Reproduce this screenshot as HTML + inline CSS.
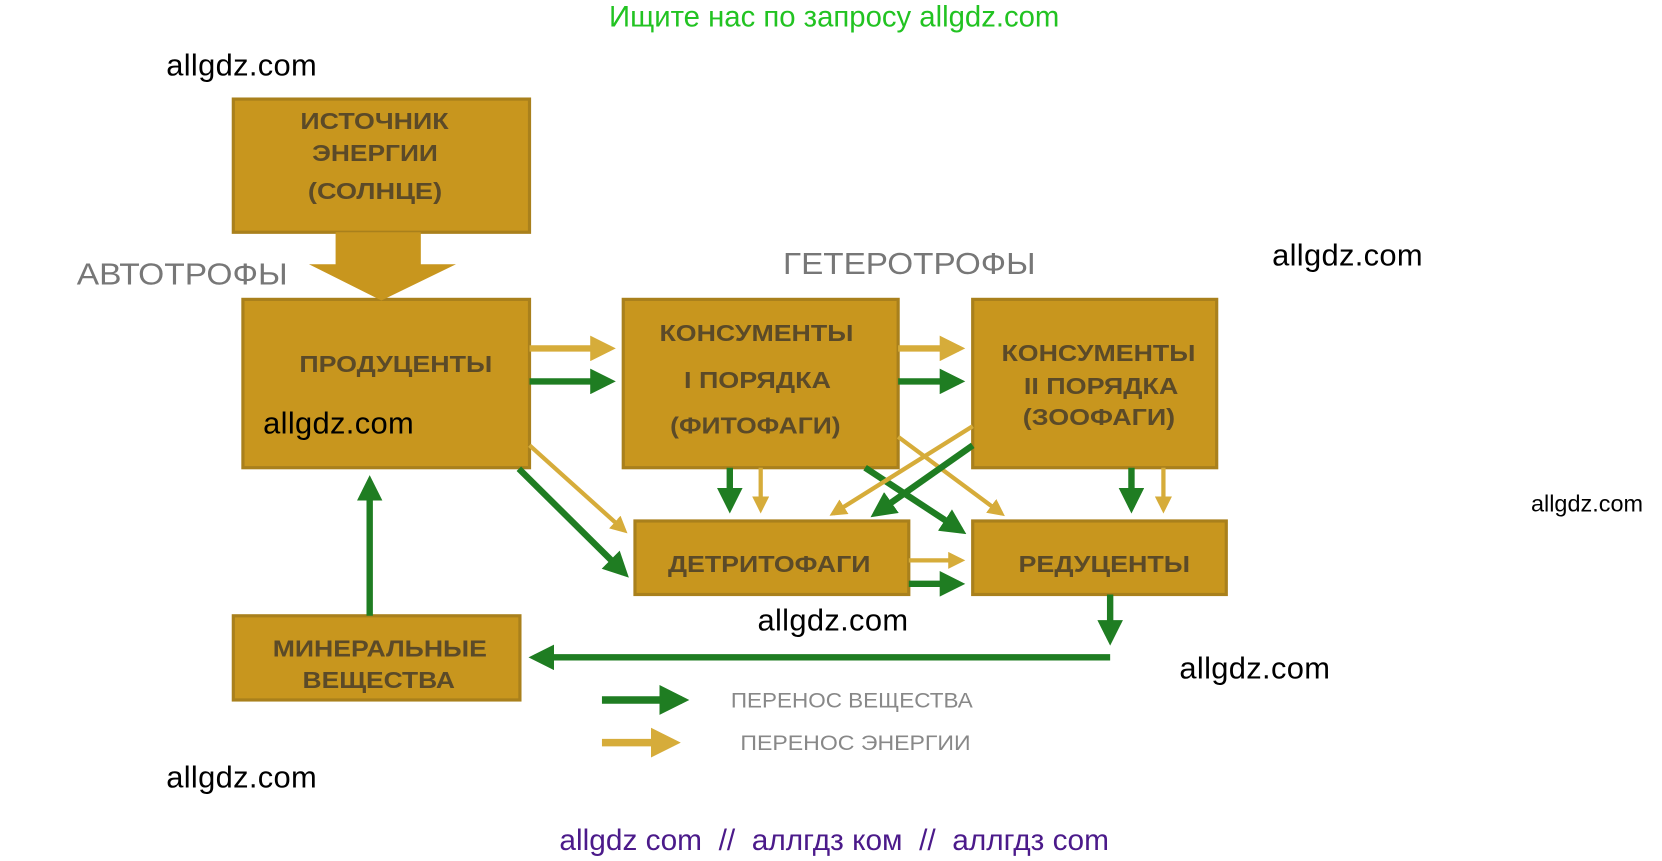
<!DOCTYPE html>
<html><head><meta charset="utf-8"><style>
html,body{margin:0;padding:0;background:#fff;width:1662px;height:861px;overflow:hidden}
#w{position:absolute;left:0;top:0;width:1560px;height:808px;transform:scale(1.0654);transform-origin:0 0;font-family:"Liberation Sans",sans-serif}
.t{position:absolute;white-space:nowrap}
.wm{font-size:29px;color:#000;letter-spacing:0.3px}
</style></head><body><div id="w">
<svg width="1560" height="808" style="position:absolute;left:0;top:0" font-family="Liberation Sans, sans-serif">
<defs>
<marker id="g" markerWidth="4" markerHeight="4" refX="3" refY="2" orient="auto" markerUnits="strokeWidth"><path d="M0,0 L4,2 L0,4 z" fill="#1f7d22"/></marker>
<marker id="y" markerWidth="4" markerHeight="4" refX="3" refY="2" orient="auto" markerUnits="strokeWidth"><path d="M0,0 L4,2 L0,4 z" fill="#d6ac3a"/></marker>
</defs>
<g fill="#c8961e" stroke="#a9801c" stroke-width="3">
<rect x="219" y="93" width="278" height="125"/>
<rect x="228" y="281" width="269" height="158"/>
<rect x="585" y="281" width="258" height="158"/>
<rect x="913" y="281" width="229" height="158"/>
<rect x="596" y="489" width="257" height="69"/>
<rect x="913" y="489" width="238" height="69"/>
<rect x="219" y="578" width="269" height="79"/>
</g>
<path d="M315,218 L395,218 L395,248 L428,248 L358,282 L290,248 L315,248 z" fill="#c8961e"/>
<g fill="#5b4a28" font-weight="bold" font-size="22" lengthAdjust="spacingAndGlyphs">
<text x="282" y="121" textLength="139" lengthAdjust="spacingAndGlyphs">ИСТОЧНИК</text>
<text x="293" y="151" textLength="118" lengthAdjust="spacingAndGlyphs">ЭНЕРГИИ</text>
<text x="289" y="187" textLength="126" lengthAdjust="spacingAndGlyphs">(СОЛНЦЕ)</text>
<text x="281" y="349" textLength="181" lengthAdjust="spacingAndGlyphs">ПРОДУЦЕНТЫ</text>
<text x="619" y="320" textLength="182" lengthAdjust="spacingAndGlyphs">КОНСУМЕНТЫ</text>
<text x="642" y="364" textLength="138" lengthAdjust="spacingAndGlyphs">I ПОРЯДКА</text>
<text x="629" y="407" textLength="160" lengthAdjust="spacingAndGlyphs">(ФИТОФАГИ)</text>
<text x="940" y="339" textLength="182" lengthAdjust="spacingAndGlyphs">КОНСУМЕНТЫ</text>
<text x="961" y="370" textLength="145" lengthAdjust="spacingAndGlyphs">II ПОРЯДКА</text>
<text x="960" y="399" textLength="143" lengthAdjust="spacingAndGlyphs">(ЗООФАГИ)</text>
<text x="627" y="537" textLength="190" lengthAdjust="spacingAndGlyphs">ДЕТРИТОФАГИ</text>
<text x="956" y="537" textLength="161" lengthAdjust="spacingAndGlyphs">РЕДУЦЕНТЫ</text>
<text x="256" y="616" textLength="201" lengthAdjust="spacingAndGlyphs">МИНЕРАЛЬНЫЕ</text>
<text x="284" y="646" textLength="143" lengthAdjust="spacingAndGlyphs">ВЕЩЕСТВА</text>
</g>
<g fill="#777" font-size="29">
<text x="72" y="267" textLength="198" lengthAdjust="spacingAndGlyphs">АВТОТРОФЫ</text>
<text x="735" y="257" textLength="237" lengthAdjust="spacingAndGlyphs">ГЕТЕРОТРОФЫ</text>
</g>
<g fill="none" stroke-width="6">
<line x1="497" y1="327" x2="572" y2="327" stroke="#d6ac3a" marker-end="url(#y)"/>
<line x1="497" y1="358" x2="572" y2="358" stroke="#1f7d22" marker-end="url(#g)"/>
<line x1="843" y1="327" x2="900" y2="327" stroke="#d6ac3a" marker-end="url(#y)"/>
<line x1="843" y1="358" x2="900" y2="358" stroke="#1f7d22" marker-end="url(#g)"/>
<line x1="497" y1="418" x2="586" y2="498" stroke="#d6ac3a" stroke-width="4" marker-end="url(#y)"/>
<line x1="487" y1="440" x2="586" y2="538" stroke="#1f7d22" marker-end="url(#g)"/>
<line x1="685" y1="439" x2="685" y2="476" stroke="#1f7d22" marker-end="url(#g)"/>
<line x1="714" y1="439" x2="714" y2="478" stroke="#d6ac3a" stroke-width="4" marker-end="url(#y)"/>
<line x1="843" y1="410" x2="940" y2="482" stroke="#d6ac3a" stroke-width="4" marker-end="url(#y)"/>
<line x1="812" y1="439" x2="902" y2="498" stroke="#1f7d22" marker-end="url(#g)"/>
<line x1="913" y1="400" x2="782" y2="482" stroke="#d6ac3a" stroke-width="4" marker-end="url(#y)"/>
<line x1="913" y1="418" x2="822" y2="482" stroke="#1f7d22" marker-end="url(#g)"/>
<line x1="1062" y1="439" x2="1062" y2="476" stroke="#1f7d22" marker-end="url(#g)"/>
<line x1="1092" y1="439" x2="1092" y2="478" stroke="#d6ac3a" stroke-width="4" marker-end="url(#y)"/>
<line x1="853" y1="526" x2="902" y2="526" stroke="#d6ac3a" stroke-width="4" marker-end="url(#y)"/>
<line x1="853" y1="548" x2="900" y2="548" stroke="#1f7d22" marker-end="url(#g)"/>
<line x1="1042" y1="558" x2="1042" y2="600" stroke="#1f7d22" marker-end="url(#g)"/>
<polyline points="1042,617 502,617" stroke="#1f7d22" marker-end="url(#g)"/>
<line x1="347" y1="578" x2="347" y2="452" stroke="#1f7d22" marker-end="url(#g)"/>
<line x1="565" y1="657" x2="640" y2="657" stroke="#1f7d22" stroke-width="7" marker-end="url(#g)"/>
<line x1="565" y1="697" x2="632" y2="697" stroke="#d6ac3a" stroke-width="7" marker-end="url(#y)"/>
</g>
<g fill="#888" font-size="20">
<text x="686" y="664" textLength="227" lengthAdjust="spacingAndGlyphs">ПЕРЕНОС ВЕЩЕСТВА</text>
<text x="695" y="704" textLength="216" lengthAdjust="spacingAndGlyphs">ПЕРЕНОС ЭНЕРГИИ</text>
</g>
</svg>
<div class="t" style="left:0;width:1566px;text-align:center;top:0px;font-size:27.5px;color:#22c322">Ищите нас по запросу allgdz.com</div>
<div class="t wm" style="left:156px;top:46px">allgdz.com</div>
<div class="t wm" style="left:1194px;top:224px">allgdz.com</div>
<div class="t wm" style="left:247px;top:382px">allgdz.com</div>
<div class="t wm" style="left:711px;top:567px">allgdz.com</div>
<div class="t wm" style="left:1107px;top:612px">allgdz.com</div>
<div class="t wm" style="left:156px;top:714px">allgdz.com</div>
<div class="t" style="left:1437px;top:460px;font-size:22px">allgdz.com</div>
<div class="t" style="left:0;width:1566px;text-align:center;top:773px;font-size:28px;color:#4b1a8a">allgdz com &nbsp;// &nbsp;аллгдз ком &nbsp;// &nbsp;аллгдз com</div>
</div></body></html>
